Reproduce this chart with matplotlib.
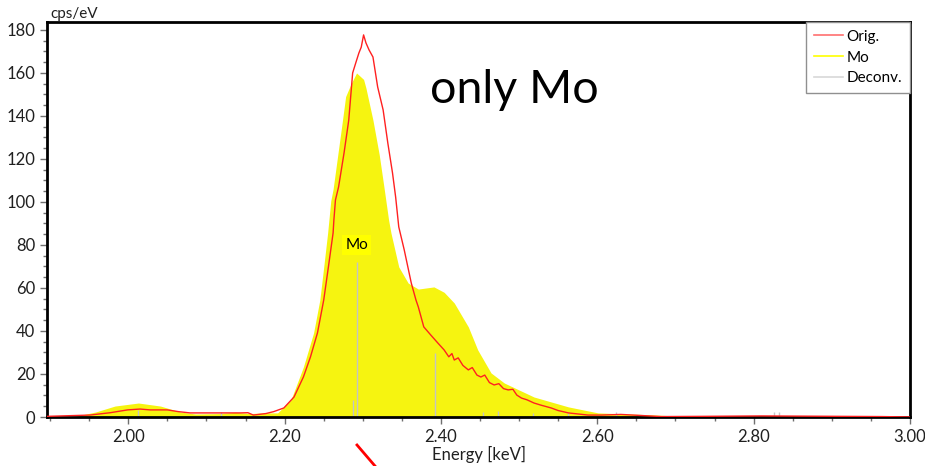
import matplotlib.pyplot as plt
from matplotlib.lines import Line2D
from matplotlib.ticker import MultipleLocator

plt.rcParams['font.family'] = ['Lato', 'DejaVu Sans']

# Orig. spectrum (keV, cps/eV)
orig_e = [1.896, 1.951, 1.977, 1.999, 2.015, 2.028, 2.050, 2.064, 2.079, 2.114,
          2.144, 2.153, 2.160, 2.176, 2.186, 2.199, 2.212, 2.224, 2.233, 2.242,
          2.250, 2.256, 2.262, 2.263, 2.265, 2.269, 2.276, 2.282, 2.287, 2.291,
          2.295, 2.298, 2.301, 2.304, 2.308, 2.313, 2.319, 2.326, 2.332, 2.338,
          2.342, 2.346, 2.353, 2.362, 2.368, 2.371, 2.378, 2.387, 2.396, 2.404,
          2.410, 2.414, 2.417, 2.422, 2.428, 2.435, 2.440, 2.446, 2.451, 2.456,
          2.462, 2.468, 2.474, 2.480, 2.486, 2.492, 2.497, 2.503, 2.510, 2.519,
          2.528, 2.541, 2.550, 2.563, 2.588, 2.605, 2.630, 2.656, 2.682, 2.733,
          2.810, 2.862, 2.913, 2.964, 3.000]
orig_v = [0.3, 0.9, 2.0, 3.3, 3.7, 3.3, 3.3, 2.5, 1.9, 1.9,
          1.9, 2.0, 0.9, 1.6, 2.5, 4.2, 9.3, 18.6, 27.9, 39.1,
          54.4, 69.8, 85.6, 91.6, 100.9, 107.0, 122.8, 138.0, 160.0, 164.7,
          169.3, 172.0, 177.7, 174.0, 170.7, 167.4, 153.5, 142.8, 127.4, 113.5,
          102.3, 88.4, 77.7, 62.3, 54.4, 51.2, 41.9, 38.1, 34.4, 31.2,
          28.0, 29.5, 26.5, 27.5, 24.0, 21.9, 23.0, 19.5, 18.6, 19.5,
          16.0, 14.9, 15.5, 13.2, 12.6, 12.9, 10.2, 8.8, 8.0, 6.5,
          5.5, 4.2, 3.0, 1.9, 0.9, 0.9, 1.2, 0.7, 0.2, 0.3,
          0.5, 0.4, 0.3, 0.2, 0.0]

# Mo fit (keV, cps/eV)
mo_e = [1.896, 1.932, 1.958, 1.983, 2.013, 2.041, 2.067, 2.086, 2.118, 2.137,
        2.156, 2.172, 2.191, 2.208, 2.224, 2.237, 2.245, 2.250, 2.255, 2.259,
        2.262, 2.268, 2.274, 2.278, 2.285, 2.292, 2.301, 2.304, 2.313, 2.321,
        2.327, 2.333, 2.336, 2.346, 2.358, 2.371, 2.391, 2.404, 2.417, 2.435,
        2.447, 2.464, 2.481, 2.519, 2.563, 2.601, 2.656, 2.708, 2.733, 2.785,
        2.849, 2.887, 2.926, 3.000]
mo_v = [0.0, 0.3, 2.3, 5.1, 6.5, 5.1, 2.3, 1.4, 1.6, 2.2,
        1.6, 1.9, 1.9, 7.9, 23.3, 39.1, 54.4, 69.8, 85.6, 100.5,
        106.0, 122.0, 138.0, 149.0, 155.0, 160.0, 157.0, 153.0, 138.0, 122.0,
        107.0, 91.6, 85.6, 69.8, 62.3, 59.5, 60.5, 58.0, 53.0, 41.9,
        31.2, 20.5, 15.8, 9.3, 4.7, 1.9, 1.2, 0.4, 0.0, 0.5,
        0.6, 0.2, 0.0, 0.0]

# Deconv. lines
dec_e = [2.013, 2.118, 2.287, 2.292, 2.392, 2.454, 2.473, 2.518, 2.563, 2.624, 2.826, 2.833]
dec_v = [3.3, 2.3, 7.9, 72.0, 29.8, 2.3, 2.8, 1.9, 1.9, 2.3, 2.3, 2.3]

fig = plt.figure(figsize=(9.25, 4.66), dpi=100)
ax = fig.add_axes([47 / 925, 1 - 417 / 466, 863 / 925, 395 / 466])

ax.fill_between(mo_e, 0, mo_v, color='#f6f410', lw=0, zorder=1)
ax.vlines(dec_e, 0, dec_v, color='#c4c4c4', lw=1, zorder=2)
ax.plot(orig_e, orig_v, color='#ff2020', lw=1, zorder=3)

ax.text(2.292, 80, 'Mo', ha='center', va='center', fontsize=11,
        bbox=dict(facecolor='#ffff00', edgecolor='none', pad=2), zorder=4)
ax.text(2.386, 146, 'only Mo', fontsize=33.5, ha='left', va='baseline')

ax.set_xlim(1.896, 3.0)
ax.set_ylim(0, 183.7)
ax.xaxis.set_major_locator(MultipleLocator(0.2))
ax.xaxis.set_minor_locator(MultipleLocator(0.05))
ax.yaxis.set_major_locator(MultipleLocator(20))
ax.yaxis.set_minor_locator(MultipleLocator(5))
ax.xaxis.set_major_formatter(lambda v, p: f'{v:.2f}')
ax.tick_params(which='major', length=5, width=1, color='#707070',
               labelsize=12, labelcolor='#202020')
ax.tick_params(which='minor', length=3, width=1, color='#707070')
ax.tick_params(top=False, right=False, which='both')
for s in ax.spines.values():
    s.set_linewidth(2)
ax.set_xlabel('Energy [keV]', fontsize=12, labelpad=1, color='#202020')
fig.text(50 / 925, 1 - 14 / 466, 'cps/eV', fontsize=11, ha='left', va='center',
         color='#202020')

handles = [Line2D([], [], color='#ff7070', lw=1.2),
           Line2D([], [], color='#ffff00', lw=1.2),
           Line2D([], [], color='#d8d8d8', lw=1.2)]
leg = ax.legend(handles, ['Orig.', 'Mo', 'Deconv.'], loc='upper right',
                borderaxespad=0, fontsize=11, fancybox=False, framealpha=1,
                handlelength=1.9, handletextpad=0.25, labelspacing=0.45,
                borderpad=0.5)
leg.get_frame().set_edgecolor('#909090')
leg.get_frame().set_linewidth(1)

# red marker stroke at the bottom edge
fig.add_artist(Line2D([357 / 925, 375 / 925], [1 - 445 / 466, 1 - 466 / 466],
                      color='#ff0000', lw=2))

fig.savefig('out.png', dpi=100)
